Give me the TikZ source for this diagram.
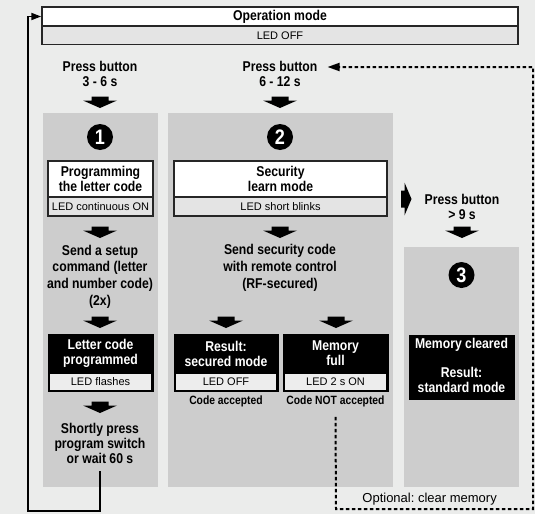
\documentclass[tikz,border=0pt]{standalone}
\usepackage{fontspec}
\setmainfont{Liberation Sans}[BoldFeatures={FakeStretch=0.86}]
\usetikzlibrary{arrows.meta}
\definecolor{bggrey}{HTML}{EBECEB}
\definecolor{panelgrey}{HTML}{CDCDCD}
\definecolor{ledgrey}{HTML}{E4E4E4}
\definecolor{ledlight}{HTML}{EDEDED}
\frenchspacing

\begin{document}
\begin{tikzpicture}[x=1pt, y=-1pt,
    every node/.style={inner sep=0pt},
    hd/.style={font=\bfseries\fontsize{14.2}{15}\selectfont, align=center},
    hdwide/.style={font=\bfseries\fontsize{14.2}{16.7}\selectfont, align=center},
    ledtxt/.style={font=\fontsize{11}{13}\selectfont},
    remark/.style={font=\bfseries\fontsize{12}{12}\selectfont},
    wbox/.style={draw=black!85, line width=1.5pt, fill=white, minimum width=105pt, minimum height=36pt},
    ledbox/.style={draw=black!85, line width=1.5pt, fill=ledgrey, minimum width=105pt, minimum height=19pt},
    bbox/.style={draw=black, fill=black, text=white, minimum width=105pt, minimum height=57pt},
    ledstrip/.style={fill=ledlight, minimum width=101pt, minimum height=16pt},
    num/.style={circle, fill=black, text=white, minimum size=26pt, font=\bfseries\fontsize{21}{21}\selectfont},
    fatdown/.pic={\fill (-8.5,-0.5) -- (8.5,-0.5) -- (8.5,3.5) -- (17,3.5) -- (0,11) -- (-17,3.5) -- (-8.5,3.5) -- cycle;},
    fatright/.pic={\fill (0,-8.5) -- (3.5,-8.5) -- (3.5,-16.5) -- (10.5,0) -- (3.5,16.5) -- (3.5,8.5) -- (0,8.5) -- cycle;},
    loopline/.style={line width=1.8pt, -{Triangle[length=10pt,width=7pt]}},
    dotline/.style={line width=2pt, dash pattern=on 3.5pt off 2.5pt, -{Triangle[length=12pt,width=8pt]}}
  ]
  \fill [bggrey] (0,0) rectangle (535,514);
  \fill [panelgrey] (43,113) rectangle (158,487);
  \fill [panelgrey] (168,113) rectangle (393,487);
  \fill [panelgrey] (404,247) rectangle (519,487);

  \node [wbox, hd, minimum width=476pt, minimum height=19pt] (opmode) at (280,16.5) {Operation mode};
  \node [ledbox, ledtxt, minimum width=476pt, minimum height=18pt] (ledoff) at (280,35.5) {LED OFF};

  \node [hd] (press1) at (100,73.5) {Press button\\3 - 6 s};
  \pic at (100,97) {fatdown};
  \node [hd] (press2) at (280,73.5) {Press button\\6 - 12 s};
  \pic at (280,97) {fatdown};

  \node [num] (n1) at (100,137) {1};
  \node [num] (n2) at (280,137) {2};

  \node [wbox, hd] (prog) at (100.5,179) {Programming\\the letter code};
  \node [ledbox, ledtxt] (ledcont) at (100.5,206.5) {LED continuous ON};
  \node [wbox, hd, minimum width=213pt] (secur) at (280.5,179) {Security\\learn mode};
  \node [ledbox, ledtxt, minimum width=213pt] (ledblink) at (280.5,206.5) {LED short blinks};

  \pic at (100,227) {fatdown};
  \pic at (280,227) {fatdown};
  \node [hdwide] (setup) at (100,276.5) {Send a setup\\command (letter\\and number code)\\(2x)};
  \node [hdwide] (sendcode) at (280,268) {Send security code\\with remote control\\(RF-secured)};

  \pic at (100,317) {fatdown};
  \pic at (226,317) {fatdown};
  \pic at (336,317) {fatdown};

  \node [bbox] (lettbox) at (100.5,363) {};
  \node [hd, text=white] (lett) at (100.5,353.5) {Letter code\\programmed};
  \node [ledstrip, ledtxt] (ledflash) at (100.5,381.5) {LED flashes};
  \node [bbox, minimum width=104pt] (resbox) at (226,363) {};
  \node [hd, text=white] (res) at (226,353.5) {Result:\\secured mode};
  \node [ledstrip, ledtxt, minimum width=100pt] (resled) at (226,381.5) {LED OFF};
  \node [remark] (acc) at (226,401) {Code accepted};
  \node [bbox] (membox) at (335.5,363) {};
  \node [hd, text=white] (mem) at (335.5,353.5) {Memory\\full};
  \node [ledstrip, ledtxt] (memled) at (335.5,381.5) {LED 2 s ON};
  \node [remark] (notacc) at (335.5,401) {Code NOT accepted};

  \pic at (100,402) {fatdown};
  \node [hd] (shortly) at (100,443) {Shortly press\\program switch\\or wait 60 s};

  \pic at (401,199) {fatright};
  \node [hd] (press3) at (462,206.5) {Press button\\> 9 s};
  \pic at (462,227) {fatdown};
  \node [num] (n3) at (461.5,275) {3};
  \node [bbox, minimum height=64pt] (clrbox) at (461.5,367) {};
  \node [hd, text=white] (clr) at (461.5,345) {Memory cleared};
  \node [hd, text=white] (std) at (461.5,379.5) {Result:\\standard mode};

  \node [font=\fontsize{13}{15}\selectfont, anchor=east] (opt) at (497,499) {Optional: clear memory};

  \coordinate (loopc) at (28,511);
  \draw [loopline] ([yshift=-8pt]shortly.south) |- (loopc) |- (opmode.west);

  \coordinate (dotbl) at (336,509);
  \coordinate (dotbr) at (533,509);
  \coordinate (dottr) at (533,67);
  \draw [dotline] ([yshift=-10pt]notacc.south) -- (dotbl) -- (dotbr) -- (dottr) -- ([xshift=10pt]press2.east |- dottr);
\end{tikzpicture}
\end{document}
